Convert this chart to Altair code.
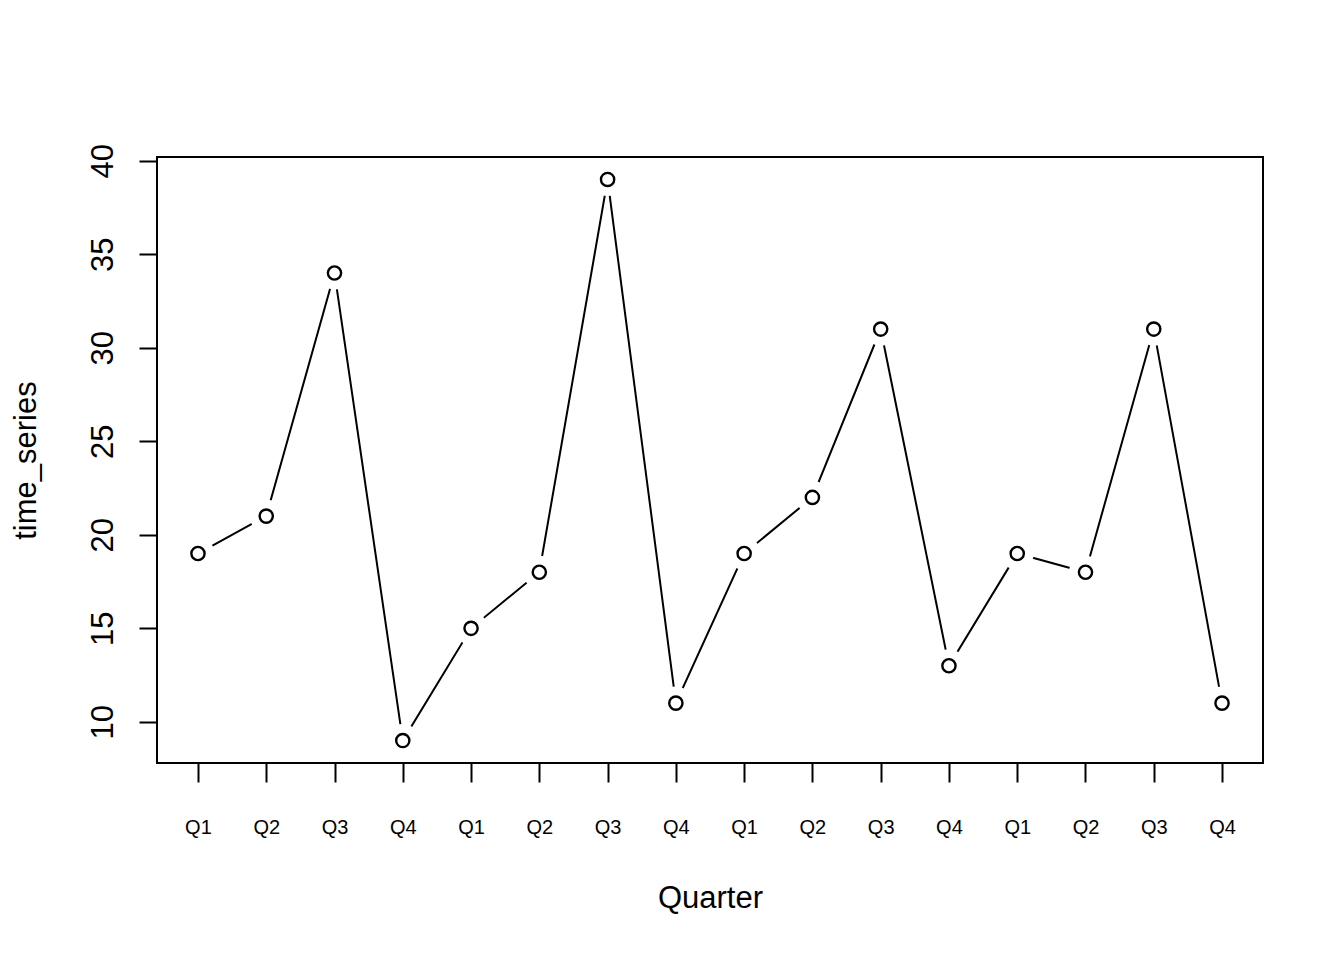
import altair as alt
import pandas as pd

quarters = ["Q1", "Q2", "Q3", "Q4", "Q1", "Q2", "Q3", "Q4",
            "Q1", "Q2", "Q3", "Q4", "Q1", "Q2", "Q3", "Q4"]
index = list(range(1, 17))
values = [19, 21, 34, 9, 15, 18, 39, 11, 19, 22, 31, 13, 19, 18, 31, 11]
y_ticks = [10, 15, 20, 25, 30, 35, 40]

df = pd.DataFrame({"idx": index, "time_series": values, "quarter": quarters})

label_js = "[" + ",".join("'%s'" % q for q in quarters) + "][datum.value - 1]"

FONT = "Liberation Sans"

x_enc = alt.X(
    "idx:Q",
    scale=alt.Scale(domain=[0.4, 16.6], nice=False, zero=False),
    axis=alt.Axis(
        values=index, labelExpr=label_js, title="Quarter",
        domain=False, grid=False, tickColor="black", tickWidth=2, tickSize=19,
        labelFont=FONT, labelFontSize=20, labelColor="black",
        labelBaseline="alphabetic", labelPadding=51, labelAlign="center",
        titleFont=FONT, titleFontSize=31, titleFontWeight="normal", titleColor="black",
        titleBaseline="alphabetic", titleX=553, titleY=144, titleAnchor="middle",
    ),
)
y_enc = alt.Y(
    "time_series:Q",
    scale=alt.Scale(domain=[7.8, 40.2], nice=False, zero=False),
    axis=alt.Axis(
        values=y_ticks, title="time_series",
        domain=False, grid=False, tickColor="black", tickWidth=2, tickSize=18,
        labelFont=FONT, labelFontSize=31, labelColor="black", labelAngle=-90,
        labelAlign="center", labelBaseline="alphabetic", labelPadding=27,
        titleFont=FONT, titleFontSize=31, titleFontWeight="normal", titleColor="black",
        titleAngle=-90, titleBaseline="alphabetic", titleX=-122, titleY=303,
        titleAnchor="middle",
    ),
)

base = alt.Chart(df).encode(x=x_enc, y=y_enc)

line = base.mark_line(color="black", strokeWidth=2)
gap = base.mark_point(shape="circle", filled=True, color="white", opacity=1, size=1100)
pts = base.mark_point(shape="circle", filled=False, color="black", fill="white",
                      fillOpacity=1, strokeWidth=2.4, size=175, opacity=1)

chart = (line + gap + pts).properties(
    width=1106, height=606,
    autosize=alt.AutoSizeParams(type="none"),
    padding={"left": 149, "top": 149, "right": 73, "bottom": 189},
    background="white",
).configure_view(stroke="black", strokeWidth=2)

chart.save("out.html", embed_options={"renderer": "svg", "actions": False})
